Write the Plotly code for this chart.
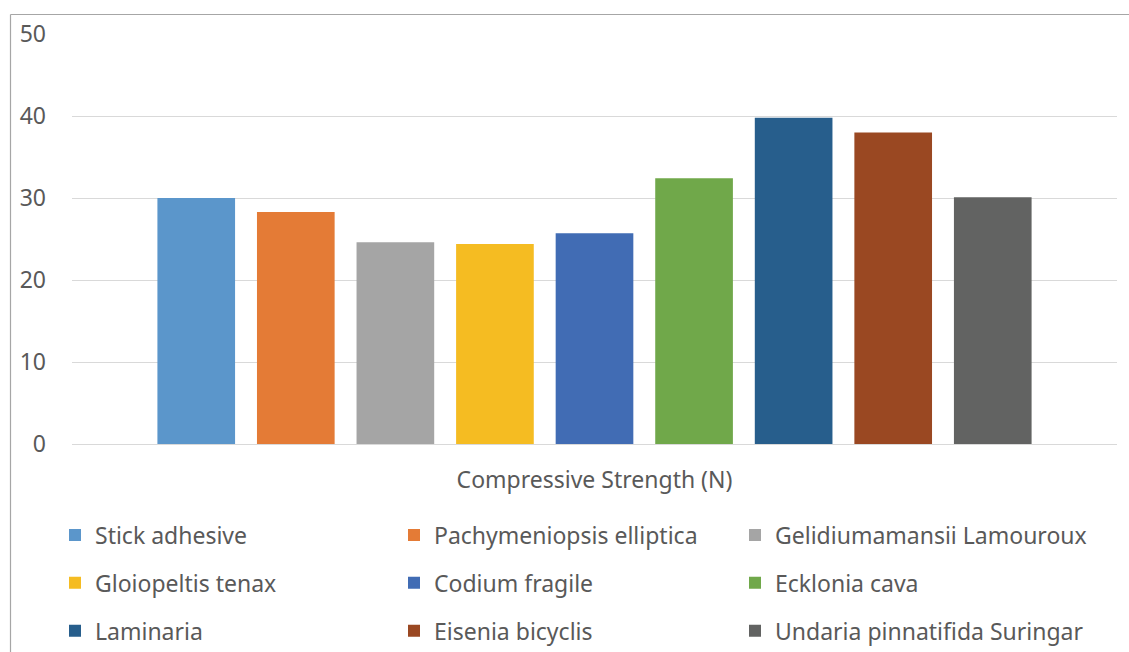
import plotly.graph_objects as go

category = ["Compressive Strength (N)"]
series_names = [
    "Stick adhesive", "Pachymeniopsis elliptica", "Gelidiumamansii Lamouroux",
    "Gloiopeltis tenax", "Codium fragile", "Ecklonia cava",
    "Laminaria", "Eisenia bicyclis", "Undaria pinnatifida Suringar",
]
strength = [30.0, 28.3, 24.6, 24.4, 25.7, 32.4, 39.8, 38.0, 30.1]
colors = ["#5B96CB", "#E47B36", "#A5A5A5", "#F5BC22", "#416CB4",
          "#70A84A", "#275E8C", "#9A4822", "#626362"]
y_ticks = [0, 10, 20, 30, 40, 50]

W, H = 1129, 652
L, R, T, B = 72, 12, 34, 208
pw, ph = W - L - R, H - T - B

def px_x(p):
    return (p - L) / pw

def px_y(p):
    return (H - B - p) / ph

FONT = "Noto Sans"
TXT = "#595959"
FS = 23

# legend laid out as three columns, one legend per column
legend_ids = ["legend", "legend2", "legend3"]
column_left = [55, 394, 735]

fig = go.Figure()
for i, (name, val, col) in enumerate(zip(series_names, strength, colors)):
    fig.add_trace(go.Bar(
        x=category, y=[val], name=name,
        marker=dict(color=col, line=dict(width=0)),
        legend=legend_ids[i % 3],
        legendgroup=f"g{i}",
    ))

def column_legend(left_px):
    return dict(
        orientation="v", xanchor="left", yanchor="middle",
        x=px_x(left_px), y=px_y(583),
        bgcolor="rgba(0,0,0,0)", borderwidth=0,
        font=dict(family=FONT, size=FS, color=TXT),
        traceorder="grouped", tracegroupgap=15,
    )

fig.update_layout(
    width=W, height=H,
    margin=dict(l=L, r=R, t=T, b=B, autoexpand=False),
    paper_bgcolor="white", plot_bgcolor="white",
    barmode="group", bargap=0.1425, bargroupgap=0.22,
    showlegend=True,
    legend=column_legend(column_left[0]),
    legend2=column_legend(column_left[1]),
    legend3=column_legend(column_left[2]),
    xaxis=dict(
        showgrid=False, showline=False, zeroline=False,
        tickfont=dict(family=FONT, size=FS, color=TXT),
        ticklabelstandoff=20,
    ),
    yaxis=dict(
        range=[0, 50], tickvals=y_ticks,
        showgrid=True, gridcolor="#D9D9D9", gridwidth=1,
        zeroline=True, zerolinecolor="#D9D9D9", zerolinewidth=1,
        showline=False,
        tickfont=dict(family=FONT, size=FS, color=TXT),
        ticklabelstandoff=25,
    ),
    shapes=[
        dict(type="line", xref="paper", yref="paper",
             x0=px_x(10.5), x1=px_x(10.5), y0=px_y(14.5), y1=px_y(660),
             line=dict(color="#A6A6A6", width=1.2)),
        dict(type="line", xref="paper", yref="paper",
             x0=px_x(10.5), x1=px_x(1140), y0=px_y(14.5), y1=px_y(14.5),
             line=dict(color="#A6A6A6", width=1.2)),
    ],
)

fig.write_html("out.html")
